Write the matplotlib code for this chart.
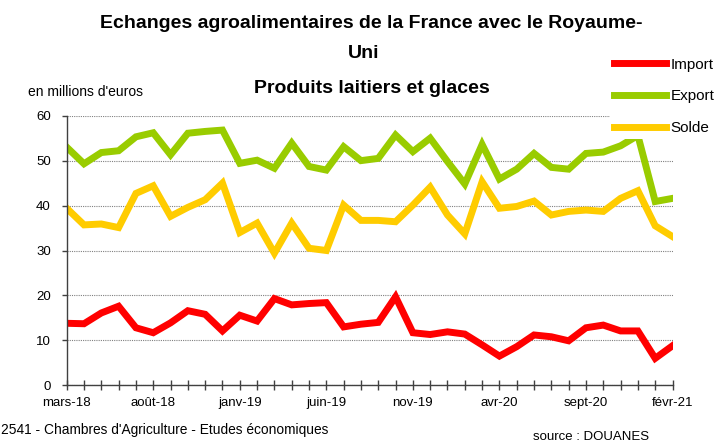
import numpy as np
import matplotlib
matplotlib.use('Agg')
import matplotlib.pyplot as plt

# valeurs mensuelles, mars-18 -> févr-21 (en millions d'euros)
imports = [13.8, 13.7, 16.1, 17.6, 12.8, 11.7, 13.9, 16.6, 15.8, 12.1, 15.6, 14.3,
           19.3, 17.9, 18.2, 18.4, 13.0, 13.6, 14.0, 19.7, 11.7, 11.3, 11.9, 11.4,
           9.0, 6.5, 8.6, 11.2, 10.8, 9.9, 12.8, 13.4, 12.1, 12.1, 6.0, 8.8]
exports = [53.0, 49.3, 51.8, 52.2, 55.3, 56.2, 51.3, 56.1, 56.5, 56.8, 49.4, 50.1,
           48.3, 53.9, 48.7, 47.9, 53.1, 50.0, 50.5, 55.7, 52.0, 55.0, 49.8, 44.8,
           53.6, 45.9, 48.1, 51.6, 48.5, 48.1, 51.6, 51.9, 53.3, 55.6, 40.9, 41.6]
solde = [39.4, 35.7, 35.9, 35.1, 42.7, 44.4, 37.6, 39.6, 41.3, 45.0, 34.0, 36.1,
         29.4, 36.1, 30.5, 30.0, 40.1, 36.7, 36.7, 36.4, 40.1, 44.1, 37.9, 33.7,
         45.3, 39.4, 39.8, 41.0, 37.9, 38.7, 39.0, 38.7, 41.6, 43.3, 35.5, 33.1]
tick_labels = ['mars-18', 'août-18', 'janv-19', 'juin-19', 'nov-19',
               'avr-20', 'sept-20', 'févr-21']
label_step = 5

plt.rcParams['font.family'] = ['Liberation Sans', 'DejaVu Sans']

fig = plt.figure(figsize=(7.17, 4.41), dpi=100)
W, H = 717, 441
ax = fig.add_axes([66.7 / W, 1 - 385.3 / H, (672.5 - 66.7) / W, (385.3 - 115.7) / H])

x = np.arange(len(imports))
ax.plot(x, imports, color='#FF0000', lw=5, label='Import', solid_joinstyle='miter')
ax.plot(x, exports, color='#99CC00', lw=5, label='Export', solid_joinstyle='miter')
ax.plot(x, solde, color='#FFCC00', lw=5, label='Solde', solid_joinstyle='miter')

ax.set_xlim(0, len(imports) - 1)
ax.set_ylim(0, 60)
ax.set_yticks(range(0, 61, 10))
ax.set_xticks(x)
labels = [''] * len(x)
for i, lab in enumerate(tick_labels):
    labels[i * label_step] = lab
ax.set_xticklabels(labels)

ax.grid(axis='y', color='#808080', linestyle=(0, (1, 1)), lw=0.8)
ax.set_axisbelow(True)
for s in ['top', 'right']:
    ax.spines[s].set_visible(False)
for s in ['left', 'bottom']:
    ax.spines[s].set_color('#404040')
    ax.spines[s].set_linewidth(1.0)

ax.tick_params(axis='x', direction='inout', length=7, width=1, color='#404040',
               labelsize=9.5, pad=5)
ax.tick_params(axis='y', direction='out', length=3.5, width=1, color='#404040',
               labelsize=9.5, pad=8)

leg = ax.legend(loc='upper left', bbox_to_anchor=(610 / W, 1 - 54 / H),
                bbox_transform=fig.transFigure, frameon=True, fancybox=False,
                fontsize=11, handlelength=3.4, handletextpad=0.33,
                labelspacing=1.15, borderpad=0.25, borderaxespad=0)
leg.get_frame().set_facecolor('white')
leg.get_frame().set_edgecolor('none')
leg.get_frame().set_alpha(1)
for h in leg.get_lines():
    h.set_linewidth(5)

# titre
fig.text(371.5 / W, 1 - 28 / H, "Echanges agroalimentaires de la France avec le Royaume-",
         ha='center', va='baseline', fontsize=14, fontweight='bold')
fig.text(364 / W, 1 - 58 / H, "Uni", ha='center', va='baseline',
         fontsize=14, fontweight='bold')
fig.text(371.5 / W, 1 - 93 / H, "Produits laitiers et glaces", ha='center',
         va='baseline', fontsize=14, fontweight='bold')

fig.text(28 / W, 1 - 95.5 / H, "en millions d'euros", ha='left', va='baseline', fontsize=10)
fig.text(1 / W, 1 - 434 / H, "2541 - Chambres d'Agriculture - Etudes économiques",
         ha='left', va='baseline', fontsize=9.9)
fig.text(533 / W, 1 - 439.5 / H, "source : DOUANES", ha='left', va='baseline', fontsize=9.5)

fig.savefig('out.png', dpi=100)
